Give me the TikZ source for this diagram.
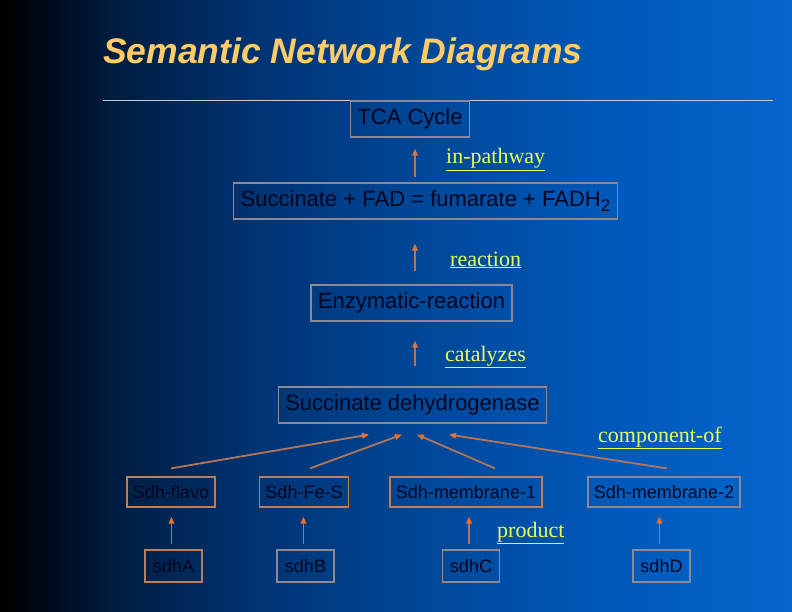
\documentclass[tikz,border=0pt]{standalone}
\usepackage{fontspec}
\setmainfont{Liberation Sans}
\newfontfamily\relfont{Liberation Serif}
\usepackage{xcolor}
\usetikzlibrary{arrows.meta}

\definecolor{titleorange}{RGB}{255,204,102}
\definecolor{boxgray}{RGB}{140,136,150}
\definecolor{boxorange}{RGB}{190,126,90}
\definecolor{inknavy}{RGB}{4,6,32}
\definecolor{relyellow}{RGB}{232,255,90}
\definecolor{shaftcol}{RGB}{178,118,92}
\definecolor{headcol}{RGB}{238,112,40}
\definecolor{rulecol}{RGB}{200,200,215}
\definecolor{bgA}{RGB}{0,3,10}
\definecolor{bgA2}{RGB}{0,14,34}
\definecolor{bgB}{RGB}{0,28,62}
\definecolor{bgC}{RGB}{0,50,112}
\definecolor{bgD}{RGB}{0,70,150}
\definecolor{bgE}{RGB}{0,88,184}
\definecolor{bgF}{RGB}{6,102,204}
% visible part of a tikz shading is 25bp--75bp
\pgfdeclarehorizontalshading{slidebg}{100bp}{color(0bp)=(black); color(25bp)=(black); color(26.5bp)=(bgA); color(29bp)=(bgA2); color(32bp)=(bgB); color(40.5bp)=(bgC); color(51bp)=(bgD); color(63bp)=(bgE); color(75bp)=(bgF); color(100bp)=(bgF)}

\tikzset{
  box/.style={draw=boxgray, line width=1.2pt, text=inknavy, inner xsep=7pt, inner ysep=0pt,
    minimum height=36pt, font=\fontsize{22}{22}\selectfont},
  sbox/.style={box, draw=boxorange, inner xsep=6pt, minimum height=30pt, font=\fontsize{18}{18}\selectfont},
  gbox/.style={sbox, draw=boxgray},
  genebox/.style={sbox, minimum width=57pt, minimum height=32pt},
  ggenebox/.style={genebox, draw=boxgray},
  rel/.style={draw=shaftcol, line width=1.8pt, -{Triangle[length=7pt,width=5.5pt,color=headcol]}},
  rellabel/.style={anchor=base west, inner sep=0pt, text=relyellow, font=\relfont\fontsize{22}{22}\selectfont}
}
\newcommand{\rellab}[1]{\underline{#1}}
\newcommand{\lowsub}[1]{\raisebox{-0.45ex}{\fontsize{17}{17}\selectfont #1}}

\begin{document}
\begin{tikzpicture}[x=1pt,y=-1pt]
\useasboundingbox (0,0) rectangle (792,612);
\shade[shading=slidebg] (0,0) rectangle (792,612);

% title and rule
\node[anchor=base west, inner sep=0pt, text=titleorange, font=\fontsize{35.5}{36}\selectfont\bfseries\itshape] (title) at (103,64) {Semantic Network Diagrams};
\draw[rulecol, line width=1pt] (103,101) -- (773,101);

% upper chain
\node[box] (tca) at (410,119) {TCA Cycle};
\node[box] (fad) at (425.5,201) {Succinate + FAD = fumarate + FADH\lowsub{2}};
\node[box] (enz) at (411.5,303) {Enzymatic-reaction};
\node[box] (sdh) at (412.5,405) {Succinate dehydrogenase};

\coordinate (axis) at (415,0);
\draw[rel, shorten <=5pt, shorten >=11pt] (axis |- fad.north) -- (axis |- tca.south);
\draw[rel, shorten <=13pt, shorten >=24pt] (axis |- enz.north) -- (axis |- fad.south);
\draw[rel, shorten <=20pt, shorten >=19pt] (axis |- sdh.north) -- (axis |- enz.south);

\node[rellabel] (lpath) at (446,164) {\rellab{in-pathway}};
\node[rellabel] (lreac) at (450,266) {\rellab{reaction}};
\node[rellabel] (lcat) at (445,361) {\rellab{catalyzes}};
\node[rellabel] (lcomp) at (598,442) {\rellab{component-of}};
\node[rellabel] (lprod) at (497,537) {\rellab{product}};

% subunits
\node[sbox] (flavo) at (171,492) {Sdh-flavo};
\node[sbox] (fes) at (304,492) {Sdh-Fe-S};
\node[sbox] (mem1) at (466,492) {Sdh-membrane-1};
\node[gbox] (mem2) at (664,492) {Sdh-membrane-2};

\draw[rel] ([yshift=8pt]flavo.north) -- ([xshift=-43.5pt,yshift=-11pt]sdh.south);
\draw[rel] ([xshift=6pt,yshift=8pt]fes.north) -- ([xshift=-10.5pt,yshift=-11pt]sdh.south);
\draw[rel] ([xshift=29pt,yshift=8pt]mem1.north) -- ([xshift=4.5pt,yshift=-11pt]sdh.south);
\draw[rel] ([xshift=3pt,yshift=8pt]mem2.north) -- ([xshift=36.5pt,yshift=-11pt]sdh.south);

% genes
\node[genebox] (sdha) at (173.5,566) {sdhA};
\node[ggenebox] (sdhb) at (305.5,566) {sdhB};
\node[ggenebox] (sdhc) at (471,566) {sdhC};
\node[ggenebox] (sdhd) at (661.5,566) {sdhD};

\foreach \g/\p in {sdha/flavo, sdhb/fes, sdhc/mem1, sdhd/mem2}
  \draw[rel, shorten <=5pt, shorten >=9pt] ([xshift=-2pt]\g.north) -- ([xshift=-2pt]\g.north |- \p.south);

\end{tikzpicture}
\end{document}
